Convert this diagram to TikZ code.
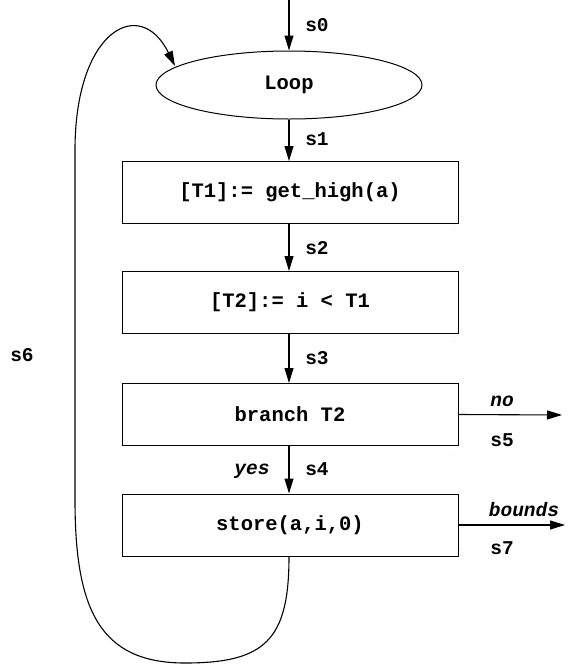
\documentclass[tikz,border=0pt]{standalone}
\usepackage{fontspec}
\setmonofont{Liberation Mono}
\usetikzlibrary{shapes.geometric,arrows.meta}
\tikzset{
  flow/.style={draw=black, line width=1pt, minimum width=336pt, minimum height=62pt, inner sep=0pt, font=\ttfamily\bfseries\fontsize{20.5}{22}\selectfont},
  loopnode/.style={draw=black, line width=1pt, ellipse, minimum width=266pt, minimum height=68pt, inner sep=0pt, font=\ttfamily\bfseries\fontsize{20.5}{22}\selectfont},
  edge/.style={line width=1.1pt, -{Triangle[length=15pt,width=9pt]}},
  lbl/.style={font=\ttfamily\bfseries\fontsize{19.5}{21}\selectfont, inner sep=0pt},
  ilbl/.style={font=\ttfamily\bfseries\itshape\fontsize{19.5}{21}\selectfont, inner sep=0pt},
  tick/.style={font=\fontsize{4}{4}\selectfont, text=gray, inner sep=0pt}
}
\begin{document}
\begin{tikzpicture}[x=1pt,y=-1pt]
\useasboundingbox (0,0) rectangle (569,665);
% nodes
\coordinate (start) at (289,0);
\node[loopnode] (loop) at (289,85) {Loop};
\node[flow] (b1) at (290,192.5) {[T1]:= get\_high(a)};
\node[flow] (b2) at (290,302.5) {[T2]:= i < T1};
\node[flow] (b3) at (290,414.5) {branch T2};
\node[flow] (b4) at (290,525) {store(a,i,0)};
\coordinate (outno) at (562,415);
\coordinate (outbd) at (565,525);
% straight connectors
\draw[edge] (start) -- (loop.north);
\draw[edge] (loop.south) -- (b1.north -| loop.south);
\draw[edge] (b1.south -| loop.south) -- (b2.north -| loop.south);
\draw[edge] (b2.south -| loop.south) -- (b3.north -| loop.south);
\draw[edge] (b3.south -| loop.south) -- (b4.north -| loop.south);
\draw[edge] (b3.east) -- (outno);
\draw[edge] (b4.east) -- (outbd);
% back edge
\draw[edge] (b4.south -| loop.south) .. controls (289,640) and (265,663) .. (185,663)
  .. controls (100,663) and (75,610) .. (75,500) -- (75,150)
  .. controls (75,30) and (140,-5) .. (175,66);
% labels
\node[lbl] (ls0) at (317,25) {s0};
\node[lbl] (ls1) at (317,139) {s1};
\node[lbl] (ls2) at (317,248) {s2};
\node[lbl] (ls3) at (317,358) {s3};
\node[lbl] (ls4) at (317,469) {s4};
\node[ilbl] (lyes) at (252,471) {yes};
\node[ilbl] (lno) at (502,401) {no};
\node[lbl] (ls5) at (502,440) {s5};
\node[ilbl] (lbd) at (524,510) {bounds};
\node[lbl] (ls7) at (502,548) {s7};
\node[lbl] (ls6) at (22,355) {s6};
% small marks below box corners
\node[tick] (t1) at (454,230) {:};
\node[tick] (t2) at (454,342) {:};
\node[tick] (t3) at (454,455) {:};
\node[tick] (t4) at (460,550) {:};
\end{tikzpicture}
\end{document}
